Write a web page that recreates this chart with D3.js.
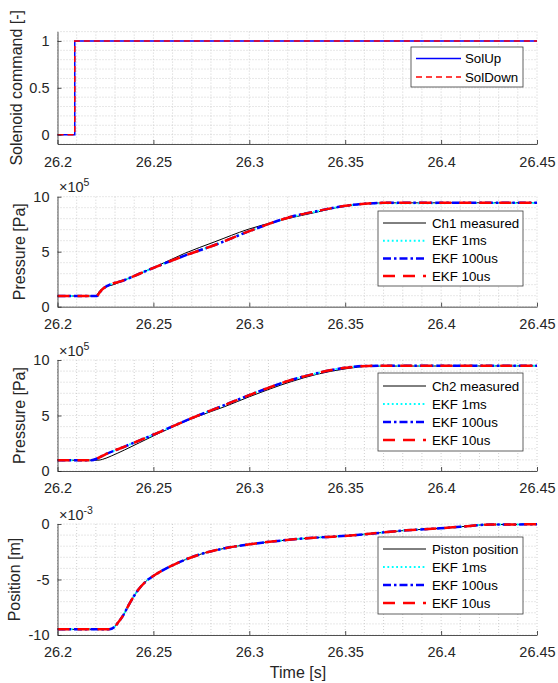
<!DOCTYPE html>
<html>
<head>
<meta charset="utf-8">
<script src="https://cdn.jsdelivr.net/npm/d3@7"></script>
<style>
  body { margin: 0; background: #fff; }
  svg { font-family: "Liberation Sans", Arial, sans-serif; }
</style>
</head>
<body>
<svg width="558" height="683"></svg>
<script>
//
// data
//

var timeTicks = [26.2, 26.25, 26.3, 26.35, 26.4, 26.45];

// solenoid command
var solT = [26.2, 26.209, 26.45];
var solUp = [0, 1, 1];
var solDown = [0, 1, 1];

// chamber 1 pressure (x 1e5 Pa)
var ch1MeasT = [26.200, 26.219, 26.2195, 26.2205, 26.222, 26.2237, 26.230, 26.235, 26.2507, 26.2663, 26.282, 26.2993, 26.315, 26.3327, 26.350, 26.360, 26.370, 26.450];
var ch1Meas = [0.97, 0.97, 0.93, 1.05, 1.45, 1.67, 2.05, 2.43, 3.6, 4.85, 5.9, 7.03, 7.8, 8.5, 9.15, 9.36, 9.44, 9.45];
var ch1EkfT = [26.200, 26.2205, 26.222, 26.224, 26.235, 26.2507, 26.2663, 26.282, 26.2993, 26.3219, 26.335, 26.350, 26.360, 26.370, 26.450];
var ch1Ekf1ms = [0.97, 0.97, 1.3, 1.67, 2.43, 3.58, 4.64, 5.61, 6.82, 8.15, 8.65, 9.15, 9.34, 9.41, 9.42];
var ch1Ekf100us = [0.97, 0.97, 1.3, 1.67, 2.43, 3.58, 4.64, 5.61, 6.82, 8.18, 8.68, 9.17, 9.36, 9.44, 9.45];
var ch1Ekf10us = [0.97, 0.97, 1.3, 1.67, 2.43, 3.58, 4.64, 5.61, 6.82, 8.18, 8.68, 9.17, 9.36, 9.44, 9.45];

// chamber 2 pressure (x 1e5 Pa)
var ch2MeasT = [26.200, 26.221, 26.2235, 26.228, 26.235, 26.2507, 26.2698, 26.2872, 26.3002, 26.3219, 26.335, 26.350, 26.365, 26.450];
var ch2Meas = [0.97, 0.97, 1.05, 1.35, 1.9, 3.22, 4.7, 5.8, 6.7, 8.05, 8.7, 9.2, 9.45, 9.47];
var ch2EkfT = [26.200, 26.2176, 26.221, 26.225, 26.235, 26.2507, 26.2698, 26.2872, 26.3002, 26.3219, 26.335, 26.350, 26.362, 26.450];
var ch2Ekf1ms = [0.97, 0.97, 1.15, 1.5, 2.2, 3.33, 4.75, 5.95, 6.85, 8.2, 8.8, 9.3, 9.47, 9.49];
var ch2Ekf100us = [0.97, 0.97, 1.15, 1.5, 2.2, 3.33, 4.75, 5.95, 6.85, 8.2, 8.8, 9.3, 9.47, 9.49];
var ch2Ekf10us = [0.97, 0.97, 1.15, 1.5, 2.2, 3.33, 4.75, 5.95, 6.85, 8.2, 8.8, 9.3, 9.47, 9.49];

// piston position (x 1e-3 m)
var posT = [26.200, 26.227, 26.2295, 26.2315, 26.234, 26.2376, 26.242, 26.2463, 26.2507, 26.2611, 26.2733, 26.2872, 26.3002, 26.3219, 26.356, 26.382, 26.3994, 26.410, 26.4255, 26.450];
var posMeas = [-9.49, -9.49, -9.3, -8.9, -8.3, -7.15, -5.95, -5.14, -4.6, -3.63, -2.79, -2.19, -1.83, -1.4, -0.99, -0.57, -0.39, -0.25, -0.05, -0.03];
var posEkf1ms = [-9.49, -9.49, -9.3, -8.9, -8.3, -7.15, -5.95, -5.14, -4.6, -3.63, -2.79, -2.19, -1.83, -1.4, -0.99, -0.57, -0.39, -0.25, -0.05, -0.03];
var posEkf100us = [-9.49, -9.49, -9.3, -8.9, -8.3, -7.15, -5.95, -5.14, -4.6, -3.63, -2.79, -2.19, -1.83, -1.4, -0.99, -0.57, -0.39, -0.25, -0.05, -0.03];
var posEkf10us = [-9.49, -9.49, -9.3, -8.9, -8.3, -7.15, -5.95, -5.14, -4.6, -3.63, -2.79, -2.19, -1.83, -1.4, -0.99, -0.57, -0.39, -0.25, -0.05, -0.03];

//
// styles
//

var ink = "#262626";
var styles = {
  solUp:   { stroke: "#0000ff", width: 1.5, dash: null },
  solDown: { stroke: "#ff0000", width: 1.5, dash: "6,4" },
  meas:    { stroke: "#000000", width: 1.0, dash: null },
  ekf1ms:  { stroke: "#00ffff", width: 2.0, dash: "1.8,2.6" },
  ekf100us:{ stroke: "#0000ff", width: 2.5, dash: "8,3,2.5,3" },
  ekf10us: { stroke: "#ff0000", width: 2.5, dash: "12,8" }
};

var svg = d3.select("svg");
var left = 57.5, right = 537;

var x = d3.scaleLinear().domain([26.2, 26.45]).range([left, right]);

function zip(t, v) { return t.map(function(d, i) { return [d, v[i]]; }); }

function panel(opt) {
  var y = d3.scaleLinear().domain(opt.ylim).range([opt.bottom, opt.top]);
  var g = svg.append("g");

  // grid (minor + major, all dotted)
  var xg = d3.range(0, 26).map(function(i) { return 26.2 + i * 0.01; });
  var yg = d3.range(0, opt.ngrid + 1).map(function(i) { return opt.ylim[0] + i * opt.gstep; });
  g.selectAll(".vg").data(xg).join("line")
    .attr("x1", function(d) { return x(d); }).attr("x2", function(d) { return x(d); })
    .attr("y1", opt.top).attr("y2", opt.bottom)
    .attr("stroke", "#c4c4c4").attr("stroke-width", 0.8).attr("stroke-dasharray", "1,2");
  g.selectAll(".hg").data(yg).join("line")
    .attr("x1", left).attr("x2", right)
    .attr("y1", function(d) { return y(d); }).attr("y2", function(d) { return y(d); })
    .attr("stroke", "#c4c4c4").attr("stroke-width", 0.8).attr("stroke-dasharray", "1,2");

  // series
  var line = d3.line().x(function(d) { return x(d[0]); }).y(function(d) { return y(d[1]); })
    .curve(opt.curve || d3.curveMonotoneX);
  opt.series.forEach(function(s) {
    var st = styles[s.style];
    g.append("path").datum(zip(s.t, s.v))
      .attr("d", line)
      .attr("fill", "none")
      .attr("stroke", st.stroke)
      .attr("stroke-width", st.width)
      .attr("stroke-dasharray", st.dash);
  });

  // axes
  var xa = g.append("g").attr("transform", "translate(0," + opt.bottom + ")")
    .call(d3.axisBottom(x).tickValues(timeTicks).tickSizeInner(-4).tickSizeOuter(0)
      .tickPadding(10).tickFormat(d3.format("")));
  var ya = g.append("g").attr("transform", "translate(" + left + ",0)")
    .call(d3.axisLeft(y).tickValues(opt.ticks).tickSizeInner(-4).tickSizeOuter(0)
      .tickPadding(8).tickFormat(function(d) { return String(d); }));
  [xa, ya].forEach(function(a) {
    a.select(".domain").attr("stroke", ink).attr("stroke-width", 0.8);
    a.selectAll(".tick line").attr("stroke", ink).attr("stroke-width", 0.8);
    a.selectAll("text").attr("fill", ink).style("font-size", "14.5px");
  });
  xa.selectAll("text").attr("dy", "0.71em").attr("y", opt.xlabY || 12);

  // y label
  g.append("text")
    .attr("transform", "translate(" + opt.labelX + "," + ((opt.top + opt.bottom) / 2) + ") rotate(-90)")
    .attr("text-anchor", "middle").attr("fill", ink).style("font-size", "16px")
    .text(opt.ylabel);

  // exponent
  if (opt.exp) {
    var et = g.append("text").attr("x", 59).attr("y", opt.top - 4.5)
      .attr("fill", ink).style("font-size", "14.5px");
    et.append("tspan").text("\u00d710");
    et.append("tspan").attr("dy", -6).style("font-size", "10.5px").text(opt.exp);
  }

  // legend
  var lg = opt.legend;
  g.append("rect").attr("x", lg.x0).attr("y", lg.y0)
    .attr("width", lg.x1 - lg.x0).attr("height", lg.y1 - lg.y0)
    .attr("fill", "#fff").attr("stroke", "#3a3a3a").attr("stroke-width", 0.8);
  opt.series.forEach(function(s, i) {
    var st = styles[s.style];
    var yy = lg.first + i * lg.step;
    g.append("line").attr("x1", lg.lx0).attr("x2", lg.lx1).attr("y1", yy).attr("y2", yy)
      .attr("stroke", st.stroke).attr("stroke-width", st.width).attr("stroke-dasharray", st.dash);
    g.append("text").attr("x", lg.tx).attr("y", yy).attr("dy", "0.35em")
      .attr("fill", "#000").style("font-size", "13.3px").text(s.name);
  });
}

panel({
  top: 31.6, bottom: 144, ylim: [-0.1, 1.1], ticks: [0, 0.5, 1], ngrid: 12, gstep: 0.1,
  ylabel: "Solenoid command [-]", labelX: 22, curve: d3.curveStepAfter, xlabY: 13,
  series: [
    { name: "SolUp", t: solT, v: solUp, style: "solUp" },
    { name: "SolDown", t: solT, v: solDown, style: "solDown" }
  ],
  legend: { x0: 411, x1: 523, y0: 47, y1: 87, first: 58.5, step: 18.5, lx0: 416, lx1: 461, tx: 465 }
});

panel({
  top: 196.7, bottom: 306.7, ylim: [0, 10], ticks: [0, 5, 10], ngrid: 10, gstep: 1,
  ylabel: "Pressure [Pa]", labelX: 25, exp: "5",
  series: [
    { name: "Ch1 measured", t: ch1MeasT, v: ch1Meas, style: "meas" },
    { name: "EKF 1ms", t: ch1EkfT, v: ch1Ekf1ms, style: "ekf1ms" },
    { name: "EKF 100us", t: ch1EkfT, v: ch1Ekf100us, style: "ekf100us" },
    { name: "EKF 10us", t: ch1EkfT, v: ch1Ekf10us, style: "ekf10us" }
  ],
  legend: { x0: 378, x1: 523, y0: 211, y1: 286, first: 223, step: 17.7, lx0: 383, lx1: 426, tx: 432 }
});

panel({
  top: 360, bottom: 471, ylim: [0, 10], ticks: [0, 5, 10], ngrid: 10, gstep: 1,
  ylabel: "Pressure [Pa]", labelX: 25, exp: "5",
  series: [
    { name: "Ch2 measured", t: ch2MeasT, v: ch2Meas, style: "meas" },
    { name: "EKF 1ms", t: ch2EkfT, v: ch2Ekf1ms, style: "ekf1ms" },
    { name: "EKF 100us", t: ch2EkfT, v: ch2Ekf100us, style: "ekf100us" },
    { name: "EKF 10us", t: ch2EkfT, v: ch2Ekf10us, style: "ekf10us" }
  ],
  legend: { x0: 378, x1: 523, y0: 373, y1: 451, first: 386, step: 18, lx0: 383, lx1: 426, tx: 432 }
});

panel({
  top: 524, bottom: 635, ylim: [-10, 0], ticks: [-10, -5, 0], ngrid: 10, gstep: 1,
  ylabel: "Position [m]", labelX: 20, exp: "-3",
  series: [
    { name: "Piston position", t: posT, v: posMeas, style: "meas" },
    { name: "EKF 1ms", t: posT, v: posEkf1ms, style: "ekf1ms" },
    { name: "EKF 100us", t: posT, v: posEkf100us, style: "ekf100us" },
    { name: "EKF 10us", t: posT, v: posEkf10us, style: "ekf10us" }
  ],
  legend: { x0: 378, x1: 523, y0: 537, y1: 614, first: 549, step: 18, lx0: 383, lx1: 426, tx: 432 }
});

// x label
svg.append("text").attr("x", 298).attr("y", 678).attr("text-anchor", "middle")
  .attr("fill", ink).style("font-size", "16px").text("Time [s]");
</script>
</body>
</html>
